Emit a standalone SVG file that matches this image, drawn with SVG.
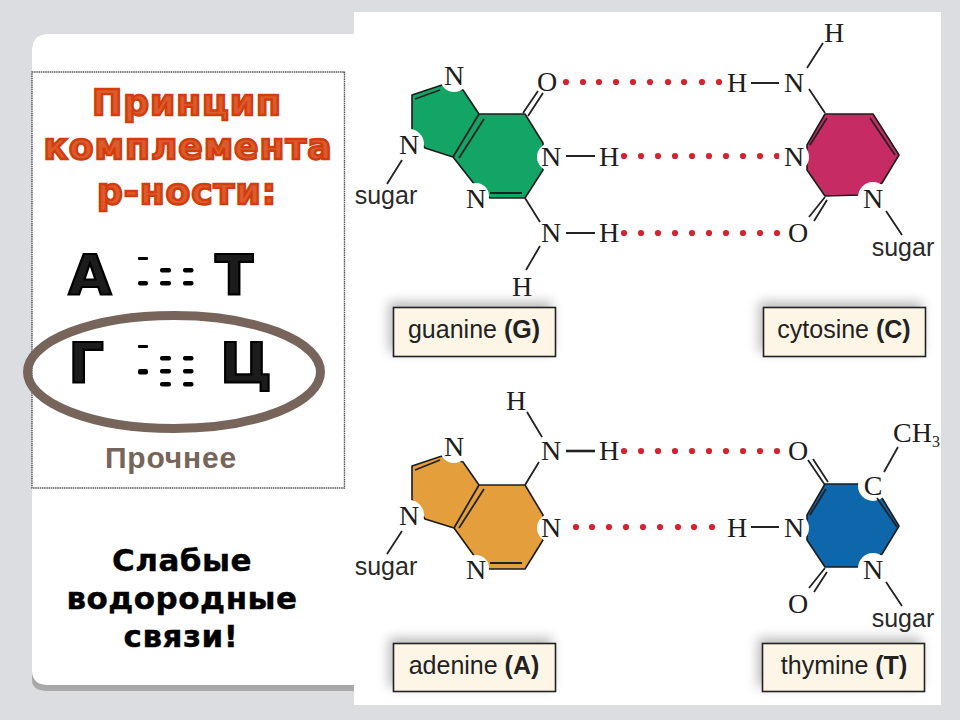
<svg xmlns="http://www.w3.org/2000/svg" width="960" height="720" viewBox="0 0 960 720">
<style>
.t{font-family:"DejaVu Sans",sans-serif;font-weight:700;text-anchor:middle}
.title{font-size:36px;letter-spacing:1px;fill:#dd5a2c;stroke:#d13d0b;stroke-width:2.4px}
.big{font-size:56px;fill:#1c1c1c;stroke:#000;stroke-width:2.200px}
.weak{font-size:31px;letter-spacing:.5px;fill:#000;stroke:#000;stroke-width:.4px}
.a{font-family:"Liberation Serif",serif;font-size:28px;fill:#1d1d1d;text-anchor:middle}
.s{font-family:"Liberation Sans",sans-serif;font-size:25px;fill:#2a2a2a;text-anchor:middle}
.lt{font-family:"Liberation Sans",sans-serif;font-size:25px;fill:#222;text-anchor:middle}
.lt tspan{font-weight:700}
.lb{fill:#fdf6e6;stroke:#222;stroke-width:1.6}
.ring{stroke:#1c1c1c;stroke-width:1.6;stroke-linejoin:round}
.b{stroke:#222;stroke-width:1.8;fill:none}
.dot{fill:#d2232f}
.k{fill:#000}
.n{fill:#fff}
</style>
<defs>
<filter id="sh" x="-20%" y="-40%" width="140%" height="180%"><feGaussianBlur stdDeviation="6"/></filter>
<circle id="d" r="3.1" class="dot"/>
</defs>
<rect width="960" height="720" fill="#dcdde0"/>
<g id="left-card">
<path d="M32 680V50Q32 34 48 34H354V691H48Q32 691 32 680Z" fill="#a8a8a8"/>
<path d="M32 670V50Q32 34 48 34H354V685H48Q32 685 32 670Z" fill="#fff"/>
<rect x="32" y="72" width="312.500" height="416" fill="none" stroke="#555" stroke-width="1.400" stroke-dasharray="1.500 .7"/>
<text class="t title" x="187" y="115">Принцип</text>
<text class="t title" x="188" y="159">комплемента</text>
<text class="t title" x="187" y="204">р-ности:</text>
<text class="t big" x="90" y="294">А</text>
<text class="t big" x="234" y="294">Т</text>
<text class="t big" x="86" y="382">Г</text>
<text class="t big" x="246" y="382">Ц</text>
<g class="k">
<rect x="138" y="257" width="10" height="3" rx="1"/><rect x="138" y="281" width="10" height="4.500" rx="2"/><rect x="160" y="268" width="11" height="4.500" rx="2"/><rect x="183" y="268" width="10.500" height="4.500" rx="2"/><rect x="160" y="281" width="11" height="4.500" rx="2"/><rect x="183" y="281" width="10.500" height="4.500" rx="2"/>
<rect x="138" y="345" width="10" height="3" rx="1"/><rect x="138" y="369" width="10" height="5.500" rx="2"/><rect x="160" y="356" width="11" height="4.500" rx="2"/><rect x="183" y="356" width="10.500" height="4.500" rx="2"/><rect x="160" y="369" width="11" height="4.500" rx="2"/><rect x="183" y="369" width="10.500" height="4.500" rx="2"/><rect x="160" y="382" width="11" height="4.500" rx="2"/><rect x="183" y="382" width="10.500" height="4.500" rx="2"/>
</g>
<ellipse cx="174" cy="372" rx="146.500" ry="56.500" fill="none" stroke="#77655b" stroke-width="9"/>
<text x="171" y="468" font-family="Liberation Sans, sans-serif" font-weight="700" font-size="30" letter-spacing=".8" fill="#76655a" text-anchor="middle">Прочнее</text>
<text class="t weak" x="182" y="571">Слабые</text>
<text class="t weak" x="182" y="609">водородные</text>
<text class="t weak" x="181" y="647">связи!</text>
</g>
<rect x="354" y="12" width="587" height="693" fill="#fff"/>
<g id="connectors">
<g id="bonds-gc"><use href="#d" x="566" y="82"/><use href="#d" x="583" y="82"/><use href="#d" x="599" y="82"/><use href="#d" x="616" y="82"/><use href="#d" x="633" y="82"/><use href="#d" x="650" y="82"/><use href="#d" x="668" y="82"/><use href="#d" x="684" y="82"/><use href="#d" x="702" y="82"/><use href="#d" x="719" y="82"/>
<use href="#d" x="624" y="156"/><use href="#d" x="641" y="156"/><use href="#d" x="658" y="156"/><use href="#d" x="675" y="156"/><use href="#d" x="692" y="156"/><use href="#d" x="709" y="156"/><use href="#d" x="726" y="156"/><use href="#d" x="743" y="156"/><use href="#d" x="760" y="156"/><use href="#d" x="777" y="156"/>
<use href="#d" x="624" y="233"/><use href="#d" x="641" y="233"/><use href="#d" x="658" y="233"/><use href="#d" x="675" y="233"/><use href="#d" x="692" y="233"/><use href="#d" x="709" y="233"/><use href="#d" x="726" y="233"/><use href="#d" x="743" y="233"/><use href="#d" x="760" y="233"/><use href="#d" x="777" y="233"/></g>
<g id="bonds-at"><use href="#d" x="624" y="451"/><use href="#d" x="641" y="451"/><use href="#d" x="658" y="451"/><use href="#d" x="675" y="451"/><use href="#d" x="692" y="451"/><use href="#d" x="709" y="451"/><use href="#d" x="726" y="451"/><use href="#d" x="743" y="451"/><use href="#d" x="760" y="451"/><use href="#d" x="777" y="451"/>
<use href="#d" x="576" y="527"/><use href="#d" x="592" y="527"/><use href="#d" x="609" y="527"/><use href="#d" x="626" y="527"/><use href="#d" x="643" y="527"/><use href="#d" x="660" y="527"/><use href="#d" x="678" y="527"/><use href="#d" x="694" y="527"/><use href="#d" x="712" y="527"/></g>
</g>
<g id="guanine">
<polygon class="ring" fill="#12a565" points="412,95 442,85 463,90 479,114 525,114 543,143 543,170 525,198 490,198 475,185 453,157 425,148 412,130"/>
<circle class="n" cx="454" cy="78" r="14"/><circle class="n" cx="409" cy="144" r="15"/><circle class="n" cx="476" cy="196" r="13"/><circle class="n" cx="551" cy="157" r="14"/>
<path class="b" d="M415 99L440 90M479 114L453 157M484 119L459 158M490 193H522M523 113L538 91M528 116L543 93M566 156H595M566 233H595M525 198L540 222M540 246L526 270M402 160L387 184"/>
<text class="a"><tspan x="454" y="85">N</tspan><tspan x="547" y="91">O</tspan><tspan x="409" y="154">N</tspan><tspan x="551" y="166">N</tspan><tspan x="609" y="166">H</tspan><tspan x="476" y="208">N</tspan><tspan x="551" y="242">N</tspan><tspan x="609" y="242">H</tspan><tspan x="522" y="296">H</tspan></text>
<text class="s" x="386" y="204">sugar</text>
<rect x="389" y="302" width="163" height="50" fill="#888" opacity=".6" filter="url(#sh)"/>
<rect class="lb" x="393.500" y="307.500" width="162" height="49"/>
<text class="lt" x="474" y="338">guanine <tspan>(G)</tspan></text>
</g>
<g id="cytosine">
<polygon class="ring" fill="#c62c63" points="825,114 873,114 899,155 882,183 860,195 825,196 807,170 807,145"/>
<circle class="n" cx="794" cy="157" r="15"/><circle class="n" cx="873" cy="197" r="15"/>
<path class="b" d="M751 83H779M807 68L823 43M809 89L825 113M827 118L810 145M870 118L895 155M825 197L809 217M827 200L814 221M886 211L902 235"/>
<text class="a"><tspan x="834" y="42">H</tspan><tspan x="737" y="92">H</tspan><tspan x="794" y="92">N</tspan><tspan x="794" y="166">N</tspan><tspan x="873" y="208">N</tspan><tspan x="798" y="242">O</tspan></text>
<text class="s" x="903" y="256">sugar</text>
<rect x="759" y="302" width="163" height="50" fill="#888" opacity=".6" filter="url(#sh)"/>
<rect class="lb" x="763.500" y="307.500" width="162" height="49"/>
<text class="lt" x="844" y="338">cytosine <tspan>(C)</tspan></text>
</g>
<g id="adenine">
<polygon class="ring" fill="#e49e3c" points="412,466 442,456 463,462 479,485 525,485 543,515 543,540 525,569 489,569 475,557 454,528 425,519 412,500"/>
<circle class="n" cx="454" cy="449" r="14"/><circle class="n" cx="409" cy="515" r="15"/><circle class="n" cx="476" cy="568" r="13"/><circle class="n" cx="551" cy="528" r="14"/>
<path class="b" d="M415 470L440 460M479 485L454 528M484 489L459 528M490 563H522M527 412L542 437M525 485L539 462M402 531L387 554"/>
<path d="M566 451H595" stroke="#222" stroke-width="2.600"/>
<text class="a"><tspan x="516" y="410">H</tspan><tspan x="551" y="460">N</tspan><tspan x="609" y="460">H</tspan><tspan x="454" y="456">N</tspan><tspan x="409" y="525">N</tspan><tspan x="551" y="537">N</tspan><tspan x="476" y="579">N</tspan></text>
<text class="s" x="386" y="575">sugar</text>
<rect x="389" y="638" width="163" height="49" fill="#888" opacity=".6" filter="url(#sh)"/>
<rect class="lb" x="393.500" y="643.500" width="162" height="48"/>
<text class="lt" x="474" y="674">adenine <tspan>(A)</tspan></text>
</g>
<g id="thymine">
<polygon class="ring" fill="#0e66ab" points="825,484 860,484 873,497 882,498 899,526 882,554 860,567 825,567 807,540 807,515"/>
<circle class="n" cx="794" cy="528" r="15"/><circle class="n" cx="873" cy="486" r="15"/><circle class="n" cx="873" cy="568" r="15"/>
<path class="b" d="M808 460L825 485M813 459L828 482M826 489L810 515M877 498L897 527M884 472L898 447M751 527H779M825 568L809 588M827 572L814 592M886 582L902 606"/>
<text class="a"><tspan x="798" y="460">O</tspan><tspan x="873" y="495">C</tspan><tspan x="737" y="537">H</tspan><tspan x="794" y="537">N</tspan><tspan x="873" y="579">N</tspan><tspan x="798" y="613">O</tspan></text>
<text x="893" y="442" font-family="Liberation Serif, serif" font-size="28" fill="#1d1d1d">CH<tspan font-size="16" dy="5">3</tspan></text>
<text class="s" x="903" y="627">sugar</text>
<rect x="758" y="638" width="163" height="49" fill="#888" opacity=".6" filter="url(#sh)"/>
<rect class="lb" x="762.500" y="643.500" width="162" height="48"/>
<text class="lt" x="844" y="674">thymine <tspan>(T)</tspan></text>
</g>
</svg>
